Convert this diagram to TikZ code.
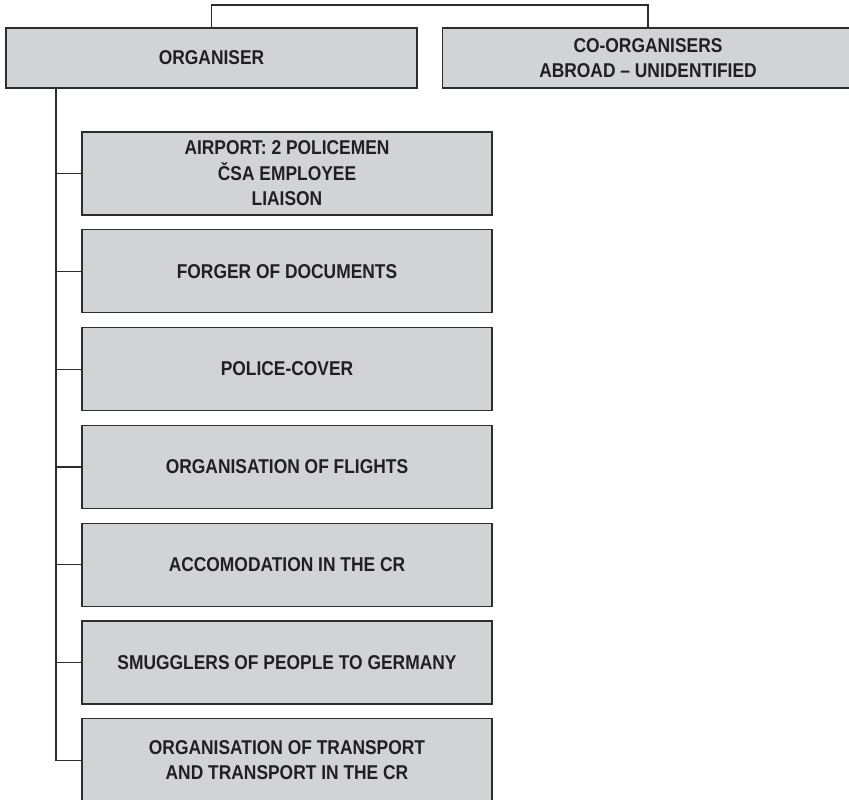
\documentclass[tikz,border=0pt]{standalone}
\usepackage{tikz}
\usetikzlibrary{positioning}
\usepackage{fontspec}
\newfontfamily\boxfont{Liberation Sans}[FakeStretch=0.87,Ligatures=TeX]
\definecolor{boxgray}{RGB}{210,211,213}
\definecolor{edgegray}{RGB}{45,45,45}
\definecolor{inkgray}{RGB}{35,31,32}

\begin{document}
\begin{tikzpicture}[x=1pt,y=-1pt,
	line width=1.2pt,
	box/.style={draw=edgegray, fill=boxgray, text=inkgray,%
		align=center, inner sep=0pt, outer sep=0pt,%
		font=\boxfont\bfseries\fontsize{20}{25.5}\selectfont},
	topbox/.style={box, minimum width=411pt, minimum height=60pt},
	subbox/.style={box, minimum width=410pt, minimum height=83pt}]
	\useasboundingbox (0,0) rectangle (849,800);
	
	\node[topbox] (org) at (211.5,58) {ORGANISER};
	\node[topbox] (coorg) at (648,58) {CO-ORGANISERS\\ABROAD -- UNIDENTIFIED};
	\draw[edgegray] (org.north) -- ++(0,-23) -| (coorg.north);
	
	\foreach \i/\txt in {1/{AIRPORT: 2 POLICEMEN\\ČSA EMPLOYEE\\LIAISON},
		2/{FORGER OF DOCUMENTS},
		3/{POLICE-COVER},
		4/{ORGANISATION OF FLIGHTS},
		5/{ACCOMODATION IN THE CR},
		6/{SMUGGLERS OF PEOPLE TO GERMANY},
		7/{ORGANISATION OF TRANSPORT\\AND TRANSPORT IN THE CR}}{
		\node[subbox] (S\i) at (287,{173.5+97.8*(\i-1)}) {\txt};
	}
	
	\draw[edgegray] ([xshift=50pt]org.south west) |- (S7.west);
	\foreach \i in {1,...,6}{
		\draw[edgegray] ([xshift=50pt]org.south west |- S\i.west) -- (S\i.west);
	}
\end{tikzpicture}
\end{document}
